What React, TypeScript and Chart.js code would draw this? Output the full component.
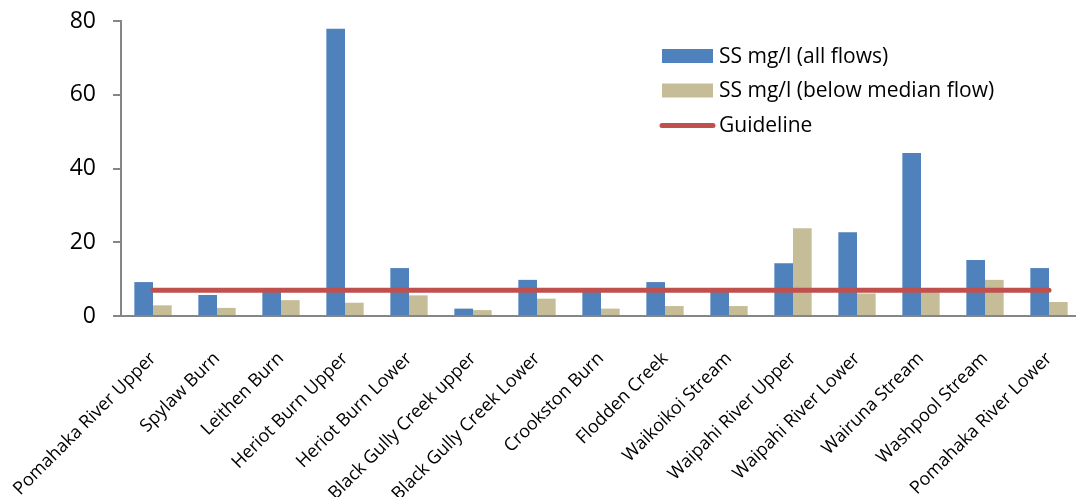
import React, { useEffect, useRef } from "react";
import { Chart, registerables } from "chart.js";

Chart.register(...registerables);

const categories = [
  "Pomahaka River Upper",
  "Spylaw Burn",
  "Leithen Burn",
  "Heriot Burn Upper",
  "Heriot Burn Lower",
  "Black Gully Creek upper",
  "Black Gully Creek Lower",
  "Crookston Burn",
  "Flodden Creek",
  "Waikoikoi Stream",
  "Waipahi River Upper",
  "Waipahi River Lower",
  "Wairuna Stream",
  "Washpool Stream",
  "Pomahaka River Lower",
];

const ssAllFlows = [9.2, 5.7, 6.5, 77.9, 13.0, 2.0, 9.8, 7.2, 9.2, 7.3, 14.3, 22.7, 44.2, 15.2, 13.0];
const ssBelowMedian = [2.9, 2.2, 4.3, 3.6, 5.6, 1.6, 4.7, 2.0, 2.7, 2.7, 23.8, 6.1, 6.5, 9.8, 3.8];
const guideline = [7, 7, 7, 7, 7, 7, 7, 7, 7, 7, 7, 7, 7, 7, 7];

const yTicks = [0, 20, 40, 60, 80];

const seriesLabels = [
  "SS mg/l (all flows)",
  "SS mg/l (below median flow)",
  "Guideline",
];

const BLUE = "#4F81BD";
const TAN = "#C4BD97";
const RED = "#C0504D";
const AXIS = "#868686";
const FONT = "'Open Sans', Lato, sans-serif";

const legendPlugin = {
  id: "customLegend",
  afterDraw(chart: any) {
    const ctx = chart.ctx;
    const x0 = 662;
    const rows = [56, 90.5, 125.5];
    const order = [1, 2, 0];
    ctx.save();
    ctx.font = `21px ${FONT}`;
    ctx.textBaseline = "middle";
    order.forEach((dsIndex, i) => {
      const ds: any = chart.data.datasets[dsIndex];
      const y = rows[i];
      if (ds.type === "line") {
        ctx.strokeStyle = ds.borderColor;
        ctx.lineWidth = 5;
        ctx.lineCap = "round";
        ctx.beginPath();
        ctx.moveTo(x0, y);
        ctx.lineTo(x0 + 51, y);
        ctx.stroke();
      } else {
        ctx.fillStyle = ds.backgroundColor;
        ctx.fillRect(x0, y - 7, 51, 14);
      }
      ctx.fillStyle = "#000";
      ctx.fillText(ds.label, x0 + 57, y + 1);
    });
    ctx.restore();
  },
};

export default function App() {
  const ref = useRef<HTMLCanvasElement | null>(null);

  useEffect(() => {
    if (!ref.current) return;
    const chart = new Chart(ref.current, {
      type: "bar",
      data: {
        labels: categories,
        datasets: [
          {
            type: "line",
            label: seriesLabels[2],
            data: guideline,
            borderColor: RED,
            backgroundColor: RED,
            borderWidth: 5,
            borderCapStyle: "round",
            pointRadius: 0,
            order: 0,
          } as any,
          {
            label: seriesLabels[0],
            data: ssAllFlows,
            backgroundColor: BLUE,
            categoryPercentage: 0.583,
            barPercentage: 1,
            order: 1,
          },
          {
            label: seriesLabels[1],
            data: ssBelowMedian,
            backgroundColor: TAN,
            categoryPercentage: 0.583,
            barPercentage: 1,
            order: 1,
          },
        ],
      },
      options: {
        animation: false,
        responsive: false,
        maintainAspectRatio: false,
        layout: { padding: { left: 0, right: 4, top: 21, bottom: 0 } },
        plugins: {
          legend: { display: false },
          tooltip: { enabled: false },
        },
        scales: {
          x: {
            grid: { display: false, drawTicks: false },
            border: { display: true, color: AXIS, width: 2 },
            ticks: {
              color: "#000",
              font: { family: FONT, size: 18 },
              minRotation: 45,
              maxRotation: 45,
              autoSkip: false,
              padding: 32,
            },
            afterFit(scale: any) {
              scale.height = 181;
              scale.paddingLeft = 0;
              scale.paddingRight = 0;
            },
          },
          y: {
            min: 0,
            max: 80,
            afterBuildTicks(scale: any) {
              scale.ticks = yTicks.map((v) => ({ value: v }));
            },
            grid: {
              drawOnChartArea: false,
              drawTicks: true,
              tickLength: 8,
              color: AXIS,
              lineWidth: 2,
            },
            border: { display: true, color: AXIS, width: 2 },
            ticks: {
              color: "#000",
              font: { family: FONT, size: 23 },
              padding: 17,
            },
            afterFit(scale: any) {
              scale.width = 121;
              scale.paddingTop = 0;
              scale.paddingBottom = 0;
            },
          },
        },
      },
      plugins: [legendPlugin],
    });
    return () => chart.destroy();
  }, []);

  return (
    <div
      style={{
        position: "fixed",
        left: 0,
        top: 0,
        width: 1076,
        height: 497,
        overflow: "hidden",
        background: "#fff",
      }}
    >
      <canvas ref={ref} width={1085} height={497} style={{ display: "block" }} />
    </div>
  );
}
